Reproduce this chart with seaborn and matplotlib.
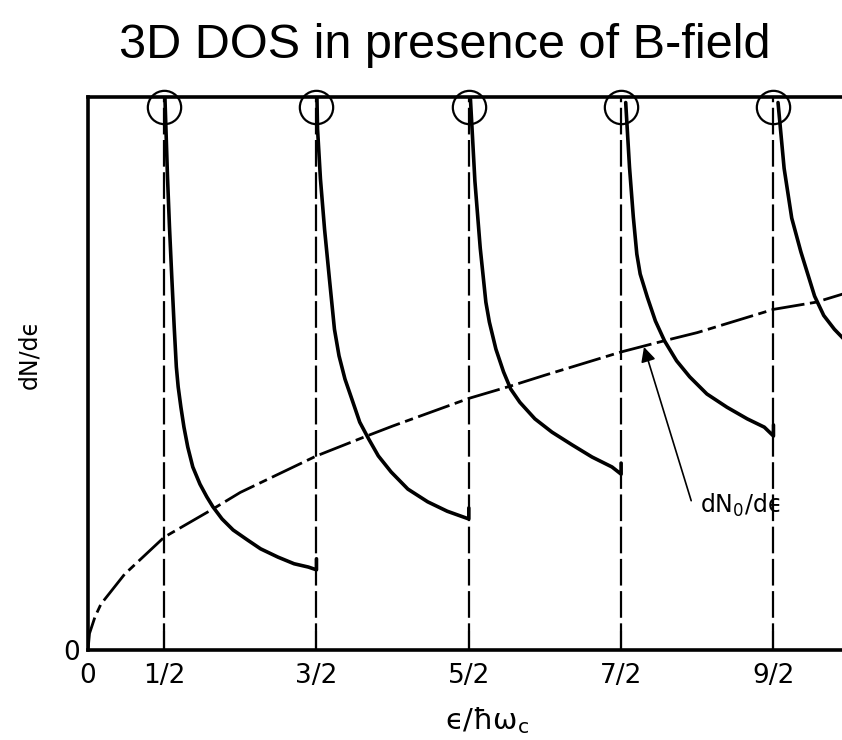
import matplotlib.pyplot as plt
import seaborn as sns
import pandas as pd
import numpy as np

sns.set_theme(style="white")
plt.rcParams['font.family'] = ['DejaVu Sans']
plt.rcParams['mathtext.fontset'] = 'dejavusans'
for key in ['text.color', 'axes.labelcolor', 'xtick.color', 'ytick.color']:
    plt.rcParams[key] = 'black'

# energies in units of hbar*omega_c, DOS in units of the frame height
level_e = [0.5, 1.5, 2.5, 3.5, 4.5]
tick_e = [0, 0.5, 1.5, 2.5, 3.5, 4.5]
tick_labels = ['0', '1/2', '3/2', '5/2', '7/2', '9/2']

# Landau-level branches
b0_e = [0.505, 0.522, 0.535, 0.55, 0.566, 0.58, 0.592, 0.61, 0.63, 0.655, 0.688, 0.735,
        0.78, 0.82, 0.88, 0.953, 1.047, 1.133, 1.247, 1.353, 1.447, 1.5, 1.5]
b0_v = [1.0, 0.855, 0.765, 0.675, 0.584, 0.512, 0.476, 0.439, 0.403, 0.367, 0.331, 0.300,
        0.277, 0.259, 0.237, 0.217, 0.199, 0.183, 0.168, 0.156, 0.150, 0.145, 0.165]
b1_e = [1.503, 1.507, 1.526, 1.553, 1.585, 1.618, 1.648, 1.687, 1.732, 1.784, 1.842,
        1.906, 1.99, 2.10, 2.23, 2.358, 2.5, 2.5]
b1_v = [1.0, 0.942, 0.852, 0.761, 0.671, 0.580, 0.532, 0.490, 0.454, 0.412, 0.382,
        0.351, 0.322, 0.291, 0.268, 0.251, 0.237, 0.257]
b2_e = [2.51, 2.54, 2.575, 2.612, 2.635, 2.678, 2.728, 2.775, 2.835, 2.934, 3.046,
        3.178, 3.309, 3.44, 3.5, 3.5]
b2_v = [1.0, 0.848, 0.727, 0.629, 0.593, 0.544, 0.503, 0.472, 0.448, 0.418, 0.394,
        0.371, 0.349, 0.331, 0.318, 0.338]
b3_e = [3.53, 3.555, 3.58, 3.603, 3.625, 3.672, 3.725, 3.785, 3.864, 3.95, 4.063,
        4.195, 4.328, 4.44, 4.5, 4.5]
b3_v = [0.99, 0.873, 0.783, 0.716, 0.680, 0.638, 0.595, 0.559, 0.523, 0.494, 0.463,
        0.439, 0.418, 0.403, 0.387, 0.407]
b4_e = [4.53, 4.57, 4.62, 4.68, 4.77, 4.83, 4.90, 4.97]
b4_v = [0.99, 0.871, 0.781, 0.72, 0.64, 0.605, 0.58, 0.56]

# free-electron dN0/de (dash-dot curve)
free_e = [0.0, 0.01, 0.046, 0.085, 0.24, 0.5, 0.82, 1.0, 1.5, 1.83, 2.0, 2.5, 2.77,
          3.0, 3.5, 3.78, 4.0, 4.5, 4.78, 4.97]
free_v = [0.0, 0.03, 0.06, 0.083, 0.137, 0.204, 0.255, 0.285, 0.351, 0.387, 0.405,
          0.455, 0.477, 0.497, 0.539, 0.559, 0.574, 0.616, 0.629, 0.645]

branches = pd.concat([
    pd.DataFrame({'E': e, 'v': v, 'n': i})
    for i, (e, v) in enumerate([(b0_e, b0_v), (b1_e, b1_v), (b2_e, b2_v),
                                (b3_e, b3_v), (b4_e, b4_v)])
])
free = pd.DataFrame({'E': free_e, 'v': free_v})

fig = plt.figure(figsize=(8.42, 7.4), dpi=100)
ax = fig.add_axes([0.1045, 0.1216, 0.8955, 0.7473])

for e in level_e:
    ax.axvline(e, color='black', lw=1.6, ls=(0, (12, 2.5)), zorder=1)

sns.lineplot(data=free, x='E', y='v', ax=ax, color='black', lw=2.0,
             estimator=None, sort=False, zorder=2)
ax.lines[-1].set_dashes([12, 2, 3, 2])
sns.lineplot(data=branches, x='E', y='v', units='n', estimator=None,
             sort=False, ax=ax, color='black', lw=2.6, zorder=3)

# loops marking the divergences at the top of the frame
ax.plot(level_e, [0.982] * len(level_e), 'o', ms=24, mfc='none', mec='black',
        mew=1.6, clip_on=False, zorder=4)

ax.annotate('', xy=(3.65, 0.548), xytext=(3.96, 0.27),
            arrowprops=dict(arrowstyle='-|>', color='black', lw=1.2,
                            mutation_scale=22, shrinkA=0, shrinkB=0))
ax.text(4.02, 0.262, 'dN$_0$/dϵ', fontsize=17, ha='left', va='center')

ax.set_xlim(0, 4.95)
ax.set_ylim(0, 1.0)
ax.set_xticks(tick_e)
ax.set_xticklabels(tick_labels)
ax.set_yticks([0])
ax.set_yticklabels(['0'])
ax.tick_params(axis='x', direction='in', length=14, width=1.5, pad=9,
               labelsize=19, bottom=True)
ax.tick_params(axis='y', length=0, pad=6, labelsize=19)
ax.set_xlabel('ϵ/ħω$_\\mathregular{c}$', fontsize=21)
ax.xaxis.label.set_va('center')
ax.xaxis.set_label_coords(0.53, -0.127)
ax.set_ylabel('dN/dϵ', fontsize=17)
ax.yaxis.label.set_va('center')
ax.yaxis.set_label_coords(-0.078, 0.535)

for side in ['left', 'bottom', 'top']:
    ax.spines[side].set_visible(True)
    ax.spines[side].set_color('black')
    ax.spines[side].set_linewidth(2.6)
ax.spines['right'].set_visible(False)

fig.text(445 / 842, 1 - 45 / 740, '3D DOS in presence of B-field',
         fontsize=35, family='Liberation Sans', ha='center', va='center')

plt.savefig('out.png', dpi=100)
